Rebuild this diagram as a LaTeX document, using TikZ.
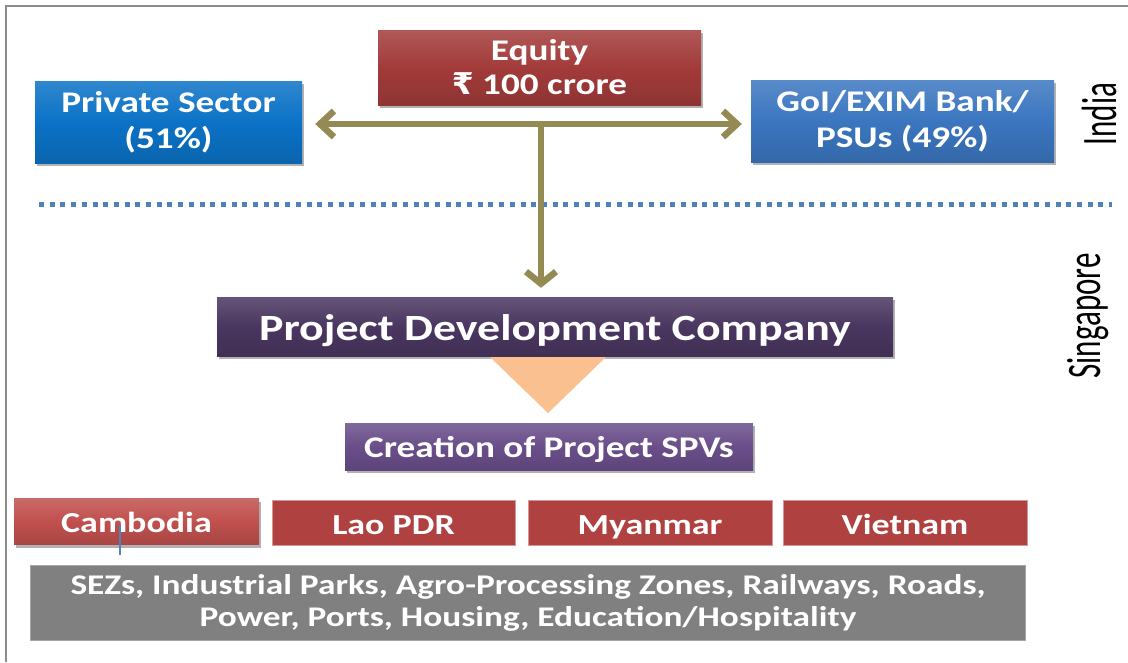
\documentclass[tikz,border=0pt]{standalone}
\usepackage{fontspec}
\setmainfont{Carlito}
\newfontfamily\bx{Carlito}[FakeStretch=1.24]
\newfontfamily\rupee{DejaVu Sans}[FakeStretch=1.05]
\usetikzlibrary{arrows.meta,shadows,calc}
\definecolor{eqred}{HTML}{A23B3A}
\definecolor{privblue}{HTML}{0B72C6}
\definecolor{goiblue}{HTML}{3B76C0}
\definecolor{pdcpurple}{HTML}{4A3660}
\definecolor{spvpurple}{HTML}{6A4E8A}
\definecolor{camred}{HTML}{C0504D}
\definecolor{ctyred}{HTML}{B04141}
\definecolor{olivearr}{HTML}{948A54}
\definecolor{tric}{HTML}{FAC090}
\definecolor{dotc}{HTML}{4F81BD}
\definecolor{sezgray}{HTML}{808080}
\definecolor{framec}{HTML}{8C8C8C}
\tikzset{
  box/.style={text=white, align=center, inner sep=0pt,
    font=\bx\bfseries\fontsize{30}{36}\selectfont},
  one/.style={text height=23pt, text depth=1pt},
  ctyfont/.style={font=\bx\bfseries\fontsize{29}{34}\selectfont},
  bev/.style={top color=#1!85!white, bottom color=#1!88!black, middle color=#1,
    drop shadow={shadow xshift=2pt, shadow yshift=-3pt, opacity=0.3, fill=black}},
  flat/.style={fill=#1, draw=#1!55!white, line width=1pt},
  arr/.style={draw=olivearr, line width=6.5pt},
  side/.style={rotate=90, font=\fontsize{31}{31}\selectfont},
}
\begin{document}
\begin{tikzpicture}[x=1pt,y=-1pt]
\useasboundingbox (0,0) rectangle (1128,662);
\fill[white] (0,0) rectangle (1128,662);
\draw[framec, line width=2.5pt] (6,662) -- (6,6) -- (1128,6);

% dotted separator
\draw[dotc, line width=5pt, dash pattern=on 5pt off 5.7pt] (39,204) -- (1112,204);

% boxes
\node[box, bev=eqred, minimum width=323pt, minimum height=75pt] (eq) at (539.5,67.5)
  {\raisebox{-2pt}{Equity}\\{\rupee\bfseries ₹} 100 crore};
\node[box, bev=privblue, minimum width=267pt, minimum height=82pt] (priv) at (168.5,122)
  {Private Sector\\(51\%)};
\node[box, bev=goiblue, minimum width=303pt, minimum height=82pt] (goi) at (902.5,121)
  {GoI/EXIM Bank/\\PSUs (49\%)};
\node[box, bev=pdcpurple, minimum width=676pt, minimum height=59pt,
  text height=30pt, text depth=3pt,
  font=\bx\bfseries\fontsize{37}{42}\selectfont] (pdc) at (555,326.5)
  {Project Development Company};
\fill[tric] (490,357) -- (606,357) -- (548,413) -- cycle;
\node[box, one, bev=spvpurple, minimum width=408pt, minimum height=47pt] (spv) at (549,446.5)
  {Creation of Project SPVs};

\node[box, one, ctyfont, bev=camred, minimum width=245pt, minimum height=46pt] (cam) at (136.5,521.5) {Cambodia};
\node[box, one, ctyfont, flat=ctyred, minimum width=243pt, minimum height=45pt] (lao) at (393.5,523) {Lao PDR};
\node[box, one, ctyfont, flat=ctyred, minimum width=244pt, minimum height=45pt] (mya) at (650,523) {Myanmar};
\node[box, one, ctyfont, flat=ctyred, minimum width=244pt, minimum height=45pt] (vie) at (905,523) {Vietnam};

\node[box, fill=sezgray, draw=sezgray!70!white, line width=1pt, minimum width=995pt, minimum height=75pt,
  font=\bx\bfseries\fontsize{28.5}{32}\selectfont] (sez) at (528,602.5)
  {SEZs, Industrial Parks, Agro-Processing Zones, Railways, Roads,\\Power, Ports, Housing, Education/Hospitality};

\draw[dotc, line width=2pt] (120,525) -- (120,555);

% side labels
\node[side] (india) at (1099,114) {\scalebox{1}[1.6]{India}};
\node[side] (sing) at (1088,316) {\scalebox{1}[1.55]{Singapore}};

% arrows
\coordinate (j) at (541,124);
\draw[arr, {Straight Barb[length=14pt,width=26pt]}-{Straight Barb[length=14pt,width=26pt]}]
  ($(priv.east|-j)+(13,0)$) -- ($(goi.west|-j)+(-9,0)$);
\draw[arr, -{Straight Barb[length=12pt,width=30pt]}] (j) -- ($(pdc.north-|j)+(0,-9)$);
\end{tikzpicture}
\end{document}
